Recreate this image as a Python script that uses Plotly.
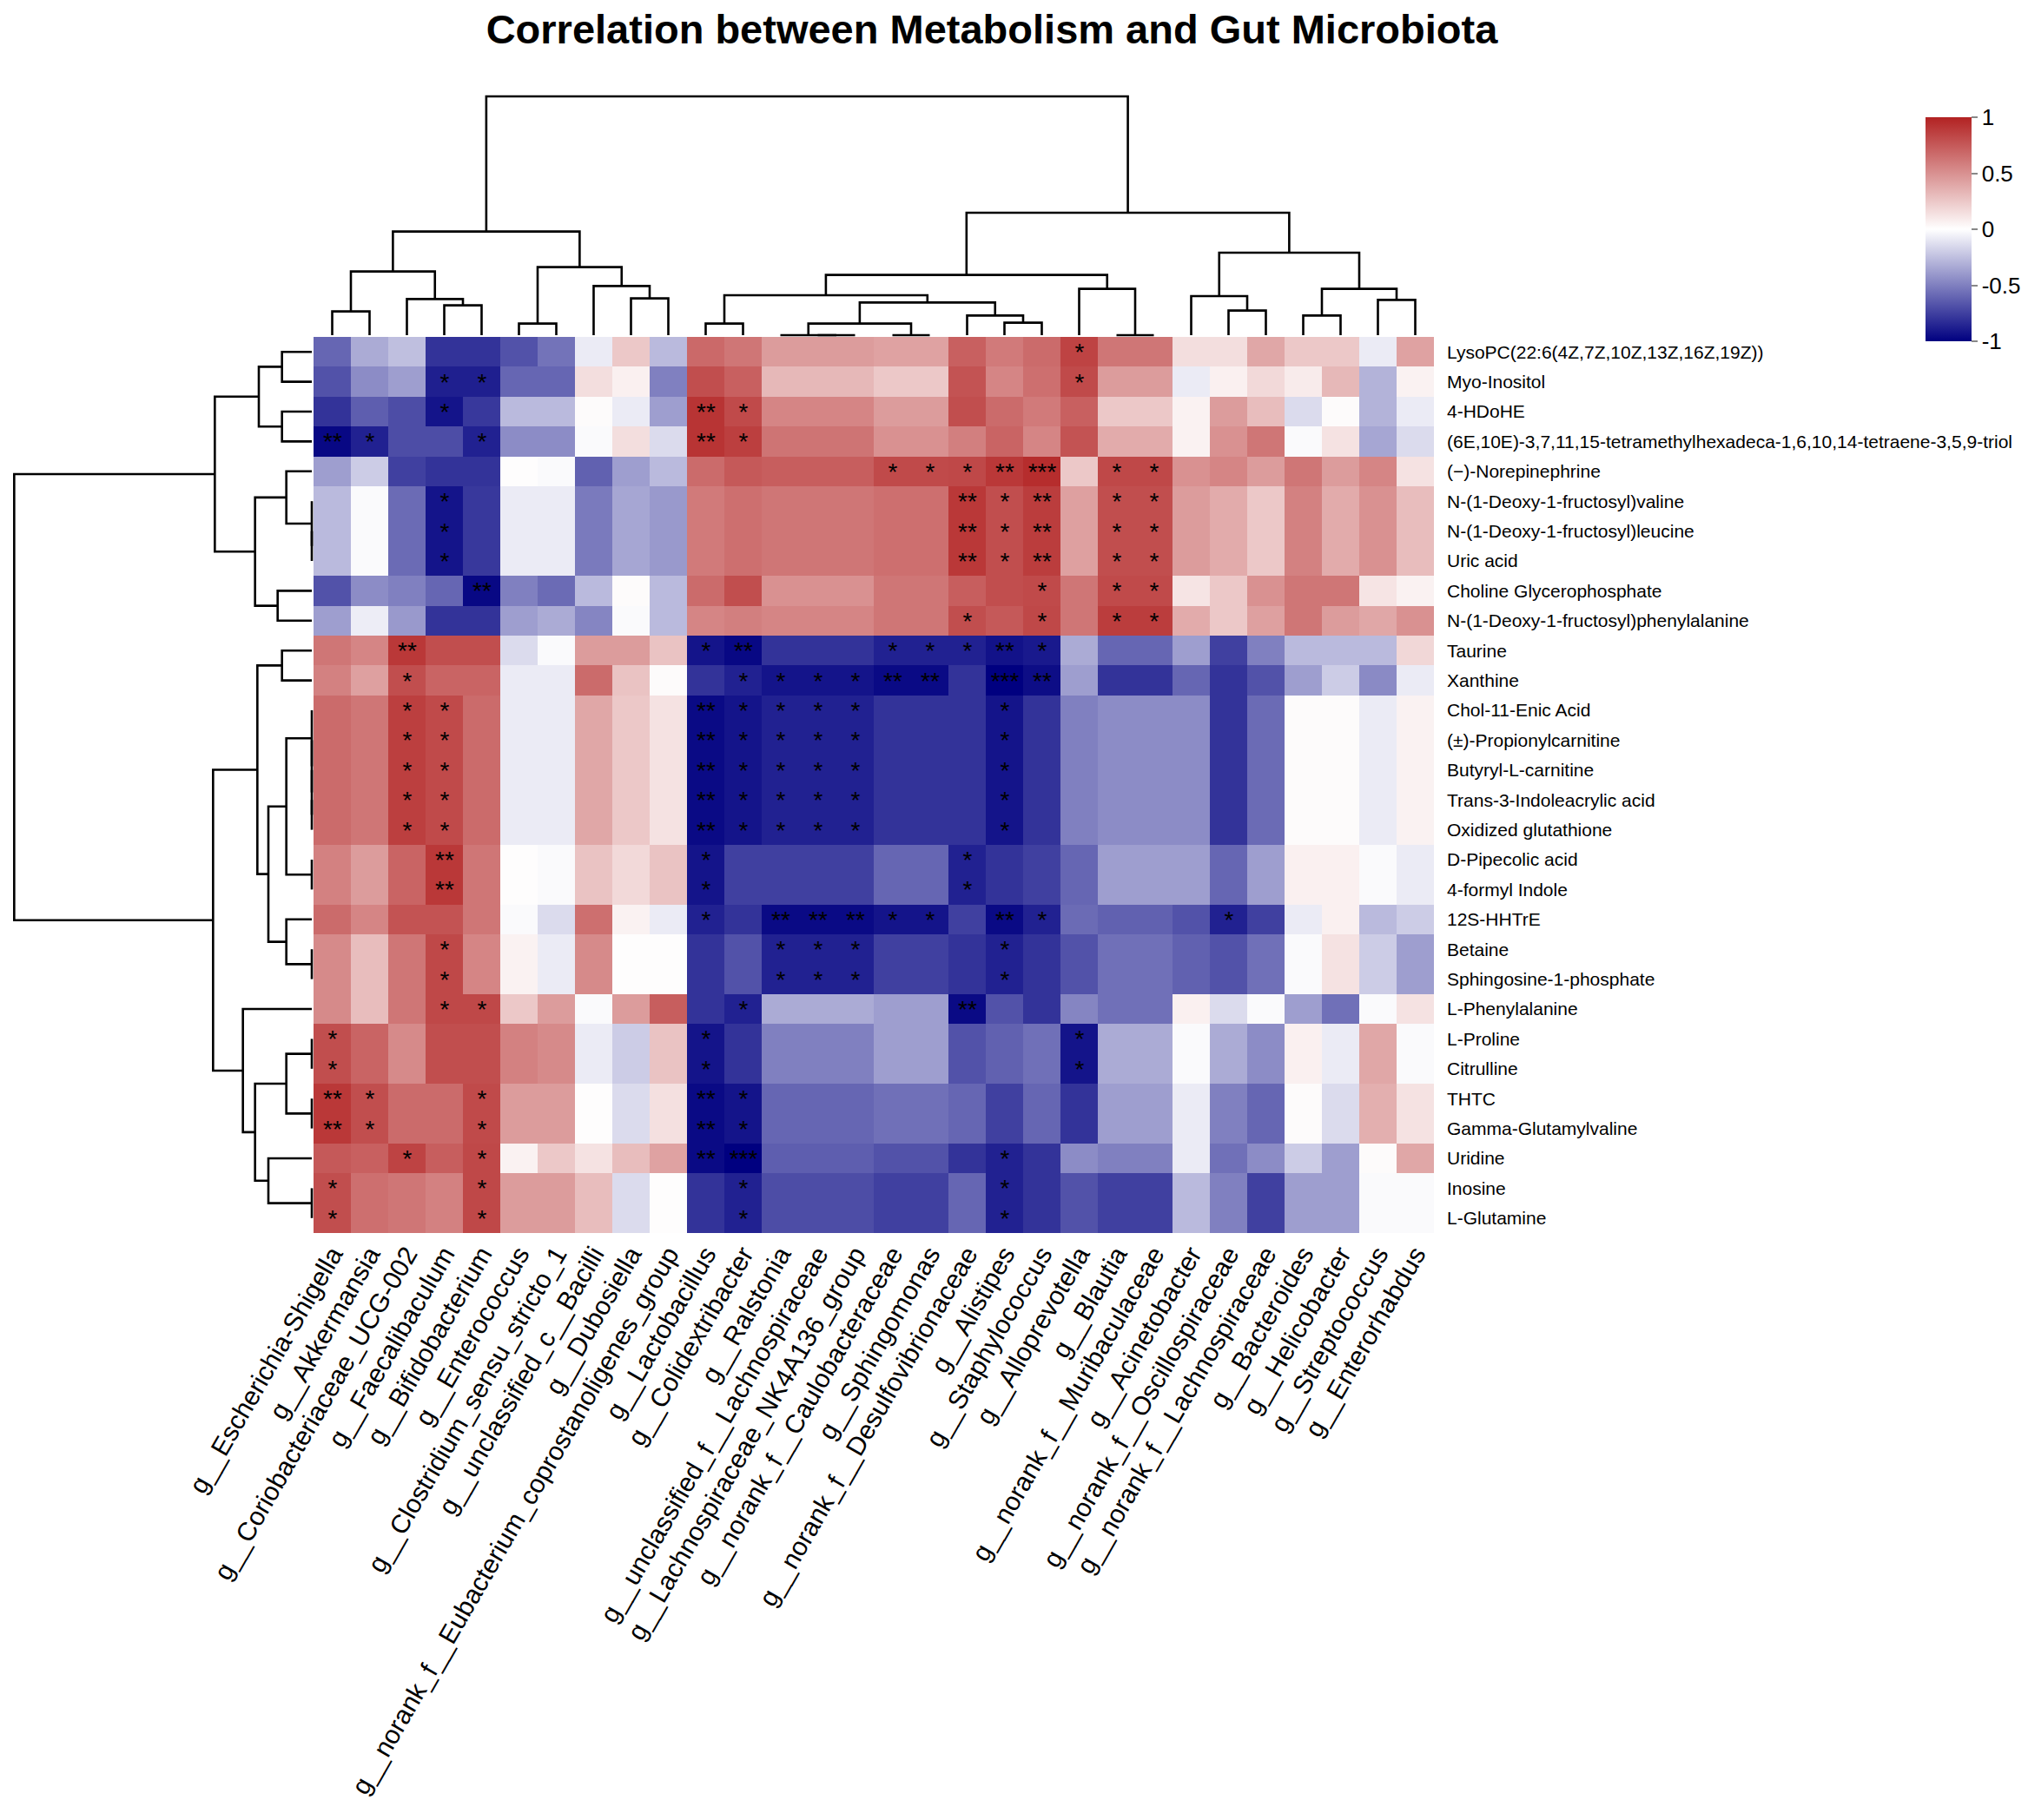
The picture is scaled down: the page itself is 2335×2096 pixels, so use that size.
import plotly.graph_objects as go

W, H = 2335, 2096

genera = [
    "g__Escherichia-Shigella", "g__Akkermansia", "g__Coriobacteriaceae_UCG-002",
    "g__Faecalibaculum", "g__Bifidobacterium", "g__Enterococcus",
    "g__Clostridium_sensu_stricto_1", "g__unclassified_c__Bacilli", "g__Dubosiella",
    "g__norank_f__Eubacterium_coprostanoligenes_group", "g__Lactobacillus",
    "g__Colidextribacter", "g__Ralstonia", "g__unclassified_f__Lachnospiraceae",
    "g__Lachnospiraceae_NK4A136_group", "g__norank_f__Caulobacteraceae",
    "g__Sphingomonas", "g__norank_f__Desulfovibrionaceae", "g__Alistipes",
    "g__Staphylococcus", "g__Alloprevotella", "g__Blautia",
    "g__norank_f__Muribaculaceae", "g__Acinetobacter", "g__norank_f__Oscillospiraceae",
    "g__norank_f__Lachnospiraceae", "g__Bacteroides", "g__Helicobacter",
    "g__Streptococcus", "g__Enterorhabdus",
]

metabolites = [
    "LysoPC(22:6(4Z,7Z,10Z,13Z,16Z,19Z))", "Myo-Inositol", "4-HDoHE",
    "(6E,10E)-3,7,11,15-tetramethylhexadeca-1,6,10,14-tetraene-3,5,9-triol",
    "(\u2212)-Norepinephrine", "N-(1-Deoxy-1-fructosyl)valine",
    "N-(1-Deoxy-1-fructosyl)leucine", "Uric acid", "Choline Glycerophosphate",
    "N-(1-Deoxy-1-fructosyl)phenylalanine", "Taurine", "Xanthine",
    "Chol-11-Enic Acid", "(\u00b1)-Propionylcarnitine", "Butyryl-L-carnitine",
    "Trans-3-Indoleacrylic acid", "Oxidized glutathione", "D-Pipecolic acid",
    "4-formyl Indole", "12S-HHTrE", "Betaine", "Sphingosine-1-phosphate",
    "L-Phenylalanine", "L-Proline", "Citrulline", "THTC", "Gamma-Glutamylvaline",
    "Uridine", "Inosine", "L-Glutamine",
]

# correlation values, one list per metabolite (columns in genera order)
lysopc = [-0.6, -0.33, -0.25, -0.8, -0.8, -0.68, -0.55, -0.08, 0.25, -0.27, 0.68, 0.62, 0.45, 0.45, 0.45, 0.42, 0.42, 0.72, 0.6, 0.67, 0.85, 0.62, 0.62, 0.15, 0.15, 0.4, 0.25, 0.25, -0.08, 0.42]
myo_inositol = [-0.68, -0.45, -0.38, -0.88, -0.88, -0.6, -0.6, 0.15, 0.07, -0.5, 0.8, 0.72, 0.32, 0.32, 0.32, 0.25, 0.25, 0.78, 0.55, 0.65, 0.82, 0.45, 0.45, -0.08, 0.07, 0.17, 0.09, 0.32, -0.3, 0.06]
hdohe = [-0.8, -0.63, -0.7, -0.92, -0.78, -0.27, -0.27, 0.02, -0.08, -0.38, 0.92, 0.82, 0.55, 0.55, 0.55, 0.45, 0.45, 0.8, 0.67, 0.6, 0.72, 0.25, 0.25, 0.06, 0.45, 0.3, -0.14, 0.02, -0.3, -0.08]
triol = [-0.97, -0.87, -0.7, -0.7, -0.87, -0.45, -0.45, -0.02, 0.15, -0.14, 0.92, 0.87, 0.63, 0.63, 0.63, 0.5, 0.5, 0.58, 0.7, 0.55, 0.78, 0.38, 0.38, 0.06, 0.5, 0.62, -0.02, 0.13, -0.35, -0.14]
norepinephrine = [-0.38, -0.2, -0.75, -0.8, -0.8, 0.01, -0.02, -0.62, -0.38, -0.27, 0.67, 0.75, 0.73, 0.73, 0.73, 0.82, 0.82, 0.83, 0.9, 0.95, 0.25, 0.83, 0.83, 0.5, 0.55, 0.45, 0.62, 0.45, 0.55, 0.13]
fru_valine = [-0.27, -0.02, -0.58, -0.92, -0.78, -0.08, -0.08, -0.52, -0.35, -0.4, 0.6, 0.65, 0.62, 0.62, 0.62, 0.65, 0.65, 0.9, 0.8, 0.88, 0.43, 0.8, 0.8, 0.45, 0.38, 0.25, 0.57, 0.38, 0.5, 0.3]
fru_leucine = [-0.27, -0.02, -0.58, -0.92, -0.78, -0.08, -0.08, -0.52, -0.35, -0.4, 0.6, 0.65, 0.62, 0.62, 0.62, 0.65, 0.65, 0.9, 0.8, 0.88, 0.43, 0.8, 0.8, 0.45, 0.38, 0.25, 0.57, 0.38, 0.5, 0.3]
uric_acid = [-0.27, -0.02, -0.58, -0.92, -0.78, -0.08, -0.08, -0.52, -0.35, -0.4, 0.6, 0.65, 0.62, 0.62, 0.62, 0.65, 0.65, 0.9, 0.8, 0.88, 0.43, 0.8, 0.8, 0.45, 0.38, 0.25, 0.57, 0.38, 0.5, 0.3]
choline_gp = [-0.68, -0.45, -0.5, -0.6, -0.97, -0.5, -0.58, -0.27, 0.02, -0.27, 0.67, 0.8, 0.5, 0.5, 0.5, 0.62, 0.62, 0.73, 0.8, 0.82, 0.62, 0.82, 0.82, 0.12, 0.25, 0.5, 0.62, 0.62, 0.12, 0.06]
fru_phe = [-0.38, -0.07, -0.4, -0.8, -0.8, -0.38, -0.33, -0.48, -0.02, -0.27, 0.55, 0.58, 0.55, 0.55, 0.55, 0.62, 0.62, 0.8, 0.75, 0.83, 0.62, 0.88, 0.88, 0.38, 0.25, 0.43, 0.62, 0.45, 0.4, 0.5]
taurine = [0.62, 0.55, 0.9, 0.8, 0.8, -0.14, -0.02, 0.45, 0.45, 0.27, -0.92, -0.97, -0.8, -0.8, -0.8, -0.87, -0.87, -0.87, -0.93, -0.9, -0.33, -0.6, -0.6, -0.38, -0.75, -0.5, -0.27, -0.27, -0.27, 0.18]
xanthine = [0.57, 0.43, 0.8, 0.7, 0.7, -0.08, -0.08, 0.67, 0.27, 0.02, -0.8, -0.87, -0.92, -0.92, -0.92, -0.96, -0.96, -0.8, -1.0, -0.95, -0.38, -0.8, -0.8, -0.6, -0.8, -0.68, -0.38, -0.2, -0.46, -0.08]
chol_enic = [0.67, 0.62, 0.87, 0.82, 0.67, -0.08, -0.08, 0.4, 0.25, 0.13, -0.96, -0.92, -0.87, -0.87, -0.87, -0.8, -0.8, -0.8, -0.92, -0.8, -0.5, -0.45, -0.45, -0.45, -0.8, -0.58, 0.02, 0.02, -0.08, 0.06]
propionylcarnitine = [0.67, 0.62, 0.87, 0.82, 0.67, -0.08, -0.08, 0.4, 0.25, 0.13, -0.96, -0.92, -0.87, -0.87, -0.87, -0.8, -0.8, -0.8, -0.92, -0.8, -0.5, -0.45, -0.45, -0.45, -0.8, -0.58, 0.02, 0.02, -0.08, 0.06]
butyrylcarnitine = [0.67, 0.62, 0.87, 0.82, 0.67, -0.08, -0.08, 0.4, 0.25, 0.13, -0.96, -0.92, -0.87, -0.87, -0.87, -0.8, -0.8, -0.8, -0.92, -0.8, -0.5, -0.45, -0.45, -0.45, -0.8, -0.58, 0.02, 0.02, -0.08, 0.06]
indoleacrylic = [0.67, 0.62, 0.87, 0.82, 0.67, -0.08, -0.08, 0.4, 0.25, 0.13, -0.96, -0.92, -0.87, -0.87, -0.87, -0.8, -0.8, -0.8, -0.92, -0.8, -0.5, -0.45, -0.45, -0.45, -0.8, -0.58, 0.02, 0.02, -0.08, 0.06]
glutathione = [0.67, 0.62, 0.87, 0.82, 0.67, -0.08, -0.08, 0.4, 0.25, 0.13, -0.96, -0.92, -0.87, -0.87, -0.87, -0.8, -0.8, -0.8, -0.92, -0.8, -0.5, -0.45, -0.45, -0.45, -0.8, -0.58, 0.02, 0.02, -0.08, 0.06]
pipecolic = [0.57, 0.45, 0.7, 0.9, 0.62, 0.01, -0.02, 0.27, 0.17, 0.27, -0.92, -0.75, -0.75, -0.75, -0.75, -0.6, -0.6, -0.87, -0.8, -0.75, -0.6, -0.38, -0.38, -0.38, -0.6, -0.38, 0.07, 0.07, -0.02, -0.08]
formyl_indole = [0.57, 0.45, 0.7, 0.9, 0.62, 0.01, -0.02, 0.27, 0.17, 0.27, -0.92, -0.75, -0.75, -0.75, -0.75, -0.6, -0.6, -0.87, -0.8, -0.75, -0.6, -0.38, -0.38, -0.38, -0.6, -0.38, 0.07, 0.07, -0.02, -0.08]
hhtre = [0.67, 0.55, 0.78, 0.78, 0.62, -0.02, -0.14, 0.65, 0.06, -0.08, -0.87, -0.8, -0.96, -0.96, -0.96, -0.92, -0.92, -0.75, -0.96, -0.87, -0.58, -0.62, -0.62, -0.68, -0.87, -0.75, -0.08, 0.07, -0.27, -0.2]
betaine = [0.53, 0.3, 0.62, 0.83, 0.55, 0.06, -0.08, 0.53, 0.01, 0.01, -0.8, -0.68, -0.87, -0.87, -0.87, -0.75, -0.75, -0.8, -0.87, -0.8, -0.68, -0.56, -0.56, -0.62, -0.68, -0.56, -0.02, 0.13, -0.2, -0.38]
s1p = [0.53, 0.3, 0.62, 0.83, 0.55, 0.06, -0.08, 0.53, 0.01, 0.01, -0.8, -0.68, -0.87, -0.87, -0.87, -0.75, -0.75, -0.8, -0.87, -0.8, -0.68, -0.56, -0.56, -0.62, -0.68, -0.56, -0.02, 0.13, -0.2, -0.38]
l_phe = [0.53, 0.3, 0.62, 0.83, 0.83, 0.25, 0.45, -0.02, 0.45, 0.73, -0.8, -0.87, -0.33, -0.33, -0.33, -0.38, -0.38, -0.96, -0.68, -0.8, -0.48, -0.56, -0.56, 0.07, -0.14, -0.02, -0.38, -0.56, -0.02, 0.13]
l_proline = [0.8, 0.7, 0.53, 0.8, 0.8, 0.57, 0.53, -0.08, -0.2, 0.27, -0.92, -0.8, -0.5, -0.5, -0.5, -0.38, -0.38, -0.68, -0.62, -0.56, -0.92, -0.33, -0.33, -0.02, -0.33, -0.45, 0.07, -0.08, 0.4, -0.02]
citrulline = [0.8, 0.7, 0.53, 0.8, 0.8, 0.57, 0.53, -0.08, -0.2, 0.27, -0.92, -0.8, -0.5, -0.5, -0.5, -0.38, -0.38, -0.68, -0.62, -0.56, -0.92, -0.33, -0.33, -0.02, -0.33, -0.45, 0.07, -0.08, 0.4, -0.02]
thtc = [0.9, 0.8, 0.67, 0.67, 0.82, 0.45, 0.45, 0.01, -0.14, 0.14, -0.96, -0.92, -0.6, -0.6, -0.6, -0.56, -0.56, -0.6, -0.75, -0.6, -0.8, -0.38, -0.38, -0.08, -0.5, -0.6, 0.02, -0.14, 0.36, 0.13]
glu_val = [0.9, 0.8, 0.67, 0.67, 0.82, 0.45, 0.45, 0.01, -0.14, 0.14, -0.96, -0.92, -0.6, -0.6, -0.6, -0.56, -0.56, -0.6, -0.75, -0.6, -0.8, -0.38, -0.38, -0.08, -0.5, -0.6, 0.02, -0.14, 0.36, 0.13]
uridine = [0.75, 0.72, 0.85, 0.73, 0.83, 0.06, 0.25, 0.13, 0.3, 0.42, -0.96, -1.0, -0.63, -0.63, -0.63, -0.68, -0.68, -0.8, -0.87, -0.8, -0.45, -0.5, -0.5, -0.08, -0.56, -0.45, -0.2, -0.38, 0.02, 0.4]
inosine = [0.8, 0.65, 0.62, 0.57, 0.83, 0.45, 0.45, 0.3, -0.14, 0.01, -0.8, -0.87, -0.7, -0.7, -0.7, -0.75, -0.75, -0.6, -0.87, -0.8, -0.68, -0.75, -0.75, -0.27, -0.5, -0.75, -0.38, -0.38, -0.02, -0.02]
l_glutamine = [0.8, 0.65, 0.62, 0.57, 0.83, 0.45, 0.45, 0.3, -0.14, 0.01, -0.8, -0.87, -0.7, -0.7, -0.7, -0.75, -0.75, -0.6, -0.87, -0.8, -0.68, -0.75, -0.75, -0.27, -0.5, -0.75, -0.38, -0.38, -0.02, -0.02]

# significance marks per metabolite: {genus index: stars}
sig_lysopc = {20: "*"}
sig_myo_inositol = {3: "*", 4: "*", 20: "*"}
sig_hdohe = {3: "*", 10: "**", 11: "*"}
sig_triol = {0: "**", 1: "*", 4: "*", 10: "**", 11: "*"}
sig_norepinephrine = {15: "*", 16: "*", 17: "*", 18: "**", 19: "***", 21: "*", 22: "*"}
sig_fru_valine = {3: "*", 17: "**", 18: "*", 19: "**", 21: "*", 22: "*"}
sig_fru_leucine = {3: "*", 17: "**", 18: "*", 19: "**", 21: "*", 22: "*"}
sig_uric_acid = {3: "*", 17: "**", 18: "*", 19: "**", 21: "*", 22: "*"}
sig_choline_gp = {4: "**", 19: "*", 21: "*", 22: "*"}
sig_fru_phe = {17: "*", 19: "*", 21: "*", 22: "*"}
sig_taurine = {2: "**", 10: "*", 11: "**", 15: "*", 16: "*", 17: "*", 18: "**", 19: "*"}
sig_xanthine = {2: "*", 11: "*", 12: "*", 13: "*", 14: "*", 15: "**", 16: "**", 18: "***", 19: "**"}
sig_chol_enic = {2: "*", 3: "*", 10: "**", 11: "*", 12: "*", 13: "*", 14: "*", 18: "*"}
sig_propionylcarnitine = {2: "*", 3: "*", 10: "**", 11: "*", 12: "*", 13: "*", 14: "*", 18: "*"}
sig_butyrylcarnitine = {2: "*", 3: "*", 10: "**", 11: "*", 12: "*", 13: "*", 14: "*", 18: "*"}
sig_indoleacrylic = {2: "*", 3: "*", 10: "**", 11: "*", 12: "*", 13: "*", 14: "*", 18: "*"}
sig_glutathione = {2: "*", 3: "*", 10: "**", 11: "*", 12: "*", 13: "*", 14: "*", 18: "*"}
sig_pipecolic = {3: "**", 10: "*", 17: "*"}
sig_formyl_indole = {3: "**", 10: "*", 17: "*"}
sig_hhtre = {10: "*", 12: "**", 13: "**", 14: "**", 15: "*", 16: "*", 18: "**", 19: "*", 24: "*"}
sig_betaine = {3: "*", 12: "*", 13: "*", 14: "*", 18: "*"}
sig_s1p = {3: "*", 12: "*", 13: "*", 14: "*", 18: "*"}
sig_l_phe = {3: "*", 4: "*", 11: "*", 17: "**"}
sig_l_proline = {0: "*", 10: "*", 20: "*"}
sig_citrulline = {0: "*", 10: "*", 20: "*"}
sig_thtc = {0: "**", 1: "*", 4: "*", 10: "**", 11: "*"}
sig_glu_val = {0: "**", 1: "*", 4: "*", 10: "**", 11: "*"}
sig_uridine = {2: "*", 4: "*", 10: "**", 11: "***", 18: "*"}
sig_inosine = {0: "*", 4: "*", 11: "*", 18: "*"}
sig_l_glutamine = {0: "*", 4: "*", 11: "*", 18: "*"}

# hierarchical clustering trees (merge a, merge b, height); new nodes numbered from n upward
col_merge_a = [0, 3, 2, 30, 5, 8, 7, 34, 33, 10, 13, 12, 15, 41, 18, 17, 43, 39, 21, 20, 47, 24, 23, 26, 28, 53, 52, 50, 38]
col_merge_b = [1, 4, 31, 32, 6, 9, 35, 36, 37, 11, 14, 40, 16, 42, 19, 44, 45, 46, 22, 48, 49, 25, 51, 27, 29, 54, 55, 56, 57]
col_merge_h = [82, 103, 125, 220, 40, 127, 170, 235, 358, 40, 0, 0, 0, 40, 43, 68, 113, 138, 0, 160, 208, 85, 135, 68, 122, 160, 285, 423, 825]

row_merge_a = [0, 2, 30, 6, 5, 4, 8, 35, 32, 10, 15, 14, 13, 12, 17, 43, 20, 19, 45, 39, 23, 25, 50, 28, 27, 52, 22, 49, 38]
row_merge_b = [1, 3, 31, 7, 33, 34, 9, 36, 37, 11, 16, 40, 41, 42, 18, 44, 21, 46, 47, 48, 24, 26, 51, 29, 53, 54, 55, 56, 57]
row_merge_h = [103, 103, 183, 0, 0, 88, 118, 196, 335, 103, 0, 0, 0, 0, 0, 88, 0, 88, 150, 188, 0, 0, 88, 0, 150, 196, 238, 341, 1028]

Z = [lysopc, myo_inositol, hdohe, triol, norepinephrine, fru_valine, fru_leucine,
     uric_acid, choline_gp, fru_phe, taurine, xanthine, chol_enic, propionylcarnitine,
     butyrylcarnitine, indoleacrylic, glutathione, pipecolic, formyl_indole, hhtre,
     betaine, s1p, l_phe, l_proline, citrulline, thtc, glu_val, uridine, inosine,
     l_glutamine]
SIG = [sig_lysopc, sig_myo_inositol, sig_hdohe, sig_triol, sig_norepinephrine,
       sig_fru_valine, sig_fru_leucine, sig_uric_acid, sig_choline_gp, sig_fru_phe,
       sig_taurine, sig_xanthine, sig_chol_enic, sig_propionylcarnitine,
       sig_butyrylcarnitine, sig_indoleacrylic, sig_glutathione, sig_pipecolic,
       sig_formyl_indole, sig_hhtre, sig_betaine, sig_s1p, sig_l_phe, sig_l_proline,
       sig_citrulline, sig_thtc, sig_glu_val, sig_uridine, sig_inosine, sig_l_glutamine]

n_rows, n_cols = len(metabolites), len(genera)
star_text = [[SIG[i].get(j, "") for j in range(n_cols)] for i in range(n_rows)]


def dendrogram_segments(n, a_list, b_list, h_list):
    pos = [float(i) for i in range(n)]
    hts = [0.0] * n
    p_out, h_out = [], []
    for a, b, h in zip(a_list, b_list, h_list):
        pa, ha, pb, hb = pos[a], hts[a], pos[b], hts[b]
        p_out += [pa, pa, pb, pb, None]
        h_out += [ha, h, h, hb, None]
        pos.append((pa + pb) / 2)
        hts.append(h)
    return p_out, h_out


def fx(p):
    return p / W


def fy(p):
    return 1 - p / H


colorscale = [[0.0, "rgb(0,0,128)"], [0.5, "rgb(255,255,255)"], [1.0, "rgb(178,34,34)"]]
FONT = "Liberation Sans, Arial, sans-serif"

fig = go.Figure()

fig.add_trace(go.Heatmap(
    z=Z, x=list(range(n_cols)), y=list(range(n_rows)),
    text=star_text, texttemplate="%{text}",
    textfont=dict(size=28, color="black", family=FONT),
    colorscale=colorscale, zmin=-1, zmax=1,
    xaxis="x", yaxis="y", hoverinfo="z",
    colorbar=dict(
        x=fx(2209), xanchor="left", y=fy(256), yanchor="middle",
        len=258 / H, lenmode="fraction", thickness=53, thicknessmode="pixels",
        xpad=0, ypad=0, outlinewidth=0,
        tickvals=[-1, -0.5, 0, 0.5, 1], ticktext=["-1", "-0.5", "0", "0.5", "1"],
        ticks="outside", ticklen=7, tickwidth=2, tickcolor="#888888",
        tickfont=dict(size=26, color="black", family=FONT),
    ),
))

cx, cy = dendrogram_segments(n_cols, col_merge_a, col_merge_b, col_merge_h)
fig.add_trace(go.Scatter(x=cx, y=cy, mode="lines", line=dict(color="black", width=2.6),
                         xaxis="x2", yaxis="y2", hoverinfo="skip", showlegend=False))

ry, rx = dendrogram_segments(n_rows, row_merge_a, row_merge_b, row_merge_h)
fig.add_trace(go.Scatter(x=rx, y=ry, mode="lines", line=dict(color="black", width=2.6),
                         xaxis="x3", yaxis="y3", hoverinfo="skip", showlegend=False))

hm_x = [fx(353), fx(1643)]
hm_y = [fy(1412), fy(380)]
hidden = dict(showgrid=False, zeroline=False, showline=False, showticklabels=False,
              ticks="", automargin=False)

fig.update_layout(
    width=W, height=H, margin=dict(l=0, r=0, t=0, b=0, autoexpand=False),
    paper_bgcolor="white", plot_bgcolor="white", showlegend=False,
    font=dict(family=FONT, color="black"),
    title=dict(text="<b>Correlation between Metabolism and Gut Microbiota</b>",
               x=fx(1134), xanchor="center", y=fy(26), yanchor="middle",
               font=dict(size=47, family=FONT, color="black")),
    xaxis=dict(domain=hm_x, range=[-0.5, n_cols - 0.5], tickmode="array",
               tickvals=list(range(n_cols)), ticktext=genera, tickangle=-60,
               tickfont=dict(size=30, family=FONT, color="black"),
               showgrid=False, zeroline=False, showline=False, ticks="",
               ticklabelstandoff=0, anchor="y", automargin=False),
    yaxis=dict(domain=hm_y, range=[n_rows - 0.5, -0.5], tickmode="array",
               tickvals=list(range(n_rows)), ticktext=metabolites, side="right",
               tickfont=dict(size=21, family=FONT, color="black"),
               showgrid=False, zeroline=False, showline=False, ticks="",
               ticklabelstandoff=14, anchor="x", automargin=False),
    xaxis2=dict(domain=hm_x, range=[-0.5, n_cols - 0.5], anchor="y2", **hidden),
    yaxis2=dict(domain=[fy(380), fy(100)], range=[-6, 834], anchor="x2", **hidden),
    xaxis3=dict(domain=[fx(5), fx(353)], range=[1038, -6], anchor="y3", **hidden),
    yaxis3=dict(domain=hm_y, range=[n_rows - 0.5, -0.5], anchor="x3", **hidden),
)

fig.write_html("out.html")
